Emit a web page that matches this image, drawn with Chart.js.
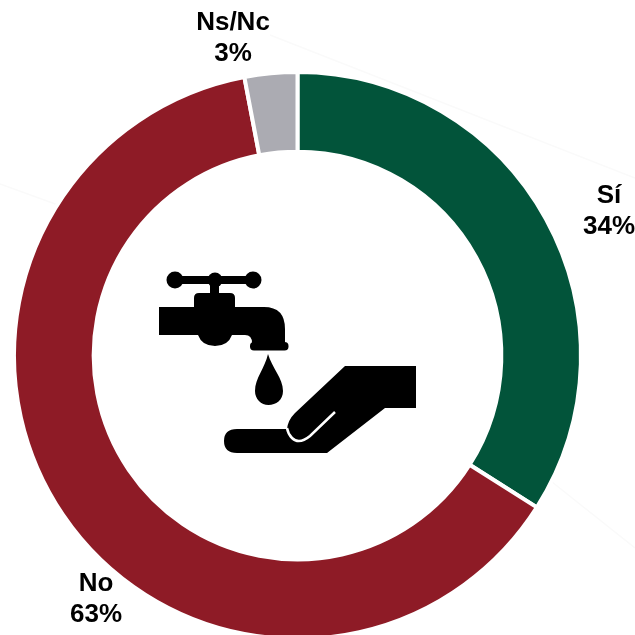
<!DOCTYPE html>
<html>
<head>
<meta charset="utf-8">
<script src="https://cdn.jsdelivr.net/npm/chart.js@4"></script>
<style>
  html, body { margin: 0; padding: 0; background: #fff; overflow: hidden; }
  #wrap { position: relative; width: 635px; height: 635px; overflow: hidden; }
  #box { position: absolute; left: 0; top: 0; width: 635px; height: 645px; }
  #icon { position: absolute; left: 0; top: 0; }
</style>
</head>
<body>
<div id="wrap">
  <div id="box"><canvas id="chart_agua"></canvas></div>
  <svg id="icon" width="635" height="635" viewBox="0 0 635 635">
    <!-- grifo -->
    <g fill="#000">
      <rect x="175" y="276" width="78" height="8"/>
      <circle cx="175" cy="280" r="8.5"/>
      <circle cx="215" cy="280" r="7.5"/>
      <circle cx="253" cy="280" r="8.5"/>
      <rect x="210" y="280" width="9" height="16"/>
      <path d="M194 308 V298 Q194 293 199 293 H230 Q235 293 235 298 V308 Z"/>
      <path d="M159 307 H264 Q285 307 285 329 V343 H252 Q252 335 245 335 H232 Q228 346 215 346 Q202 346 198 335 H159 Z"/>
      <rect x="250" y="342" width="38.5" height="8.5" rx="4"/>
      <!-- gota -->
      <path d="M268 354 C272 368 283 378 283 391 C283 400 276 405 268.500 405 C261 405 255 399 255 391 C255 378 265 368 268 354 Z"/>
      <!-- mano -->
      <path d="M345 366 H416 V408 H385 L327 453 H237 Q224 453 224 441 Q224 429 237 429 H287 Q288 420 295 413 L345 366 Z"/>
    </g>
    <path d="M335 412 L310 436 Q299 445 292 438 Q288 434 287 428" fill="none" stroke="#fff" stroke-width="2.5"/>
  </svg>
</div>
<script>
const CATEGORIES = ["Sí", "No", "Ns/Nc"];
const VALUES = [34, 63, 3];
const COLORS = ["#02543A", "#8E1B26", "#ABABB2"];
const VALUE_LABELS = ["34%", "63%", "3%"];

// centro de cada etiqueta en px de la pagina
const LABEL_POS = [
    [609, 211],
    [96, 599],
    [233, 38],
];

// lineas muy tenues del fondo
const FAINT_LINES = [
    [270, 35, 635, 178],
    [0, 184, 105, 222],
    [552, 482, 635, 548],
];

const backgroundLines = {
    id: "backgroundLines",
    beforeDraw(chart) {
        const ctx = chart.ctx;
        ctx.save();
        ctx.strokeStyle = "#fafafa";
        ctx.lineWidth = 1.5;
        FAINT_LINES.forEach((l) => {
            ctx.beginPath();
            ctx.moveTo(l[0], l[1]);
            ctx.lineTo(l[2], l[3]);
            ctx.stroke();
        });
        ctx.restore();
    },
};

const sliceLabels = {
    id: "sliceLabels",
    afterDraw(chart) {
        const ctx = chart.ctx;
        ctx.save();
        ctx.font = 'bold 26px "Liberation Sans", Arial, sans-serif';
        ctx.fillStyle = "#000";
        ctx.textAlign = "center";
        ctx.textBaseline = "middle";
        CATEGORIES.forEach((name, i) => {
            const pos = LABEL_POS[i];
            ctx.fillText(name, pos[0], pos[1] - 15);
            ctx.fillText(VALUE_LABELS[i], pos[0], pos[1] + 16);
        });
        ctx.restore();
    },
};

const ctx = document.getElementById("chart_agua");
new Chart(ctx, {
    type: "doughnut",
    data: {
        labels: CATEGORIES,
        datasets: [
            {
                data: VALUES,
                backgroundColor: COLORS,
                borderColor: "#fff",
                borderWidth: 4,
            },
        ],
    },
    options: {
        responsive: true,
        maintainAspectRatio: false,
        animation: false,
        cutout: "71.9%",
        layout: {
            padding: { left: 12, right: 52, top: 70, bottom: 4 },
        },
        plugins: {
            legend: { display: false },
            tooltip: { enabled: false },
        },
    },
    plugins: [backgroundLines, sliceLabels],
});
</script>
</body>
</html>
